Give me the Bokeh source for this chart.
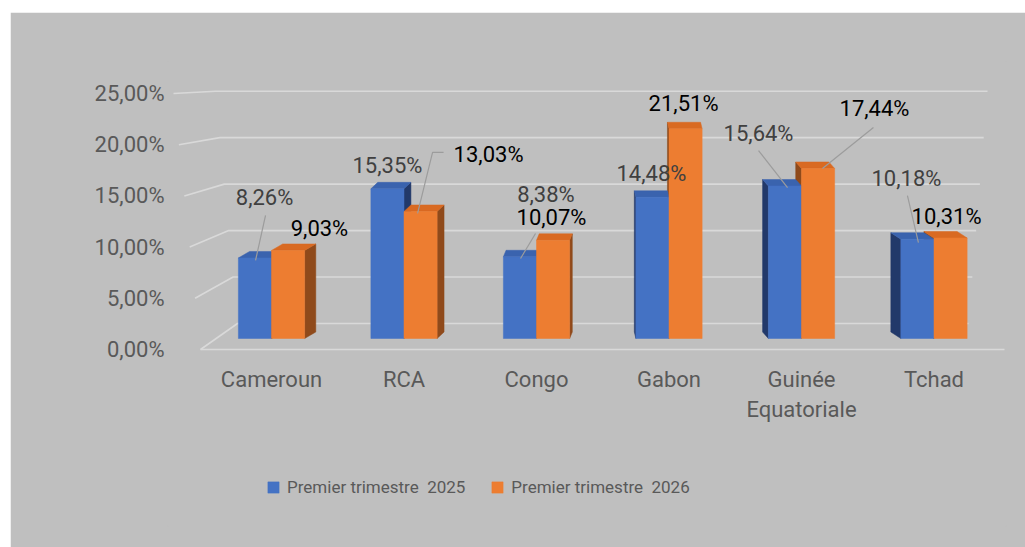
import numpy as np
from bokeh.plotting import figure
from bokeh.models import Range1d, FixedTicker, Legend, LegendItem, ColumnDataSource
from bokeh.core.properties import value
from bokeh.embed import file_html
from bokeh.resources import INLINE

# ---------------- data ----------------
categories = ["Cameroun", "RCA", "Congo", "Gabon", "Guinée\nEquatoriale", "Tchad"]
series_names = ["Premier trimestre  2025", "Premier trimestre  2026"]
values_2025 = [8.26, 15.35, 8.38, 14.48, 15.64, 10.18]
values_2026 = [9.03, 13.03, 10.07, 21.51, 17.44, 10.31]
y_ticks = [0, 5, 10, 15, 20, 25]
y_tick_labels = ["0,00%", "5,00%", "10,00%", "15,00%", "20,00%", "25,00%"]

# ---------------- style / layout ----------------
W, H = 1015, 535
BG = "#BFBFBF"
GRID = "#D9D9D9"
FONT = "Roboto"
FRONT = ["#4472C4", "#ED7D31"]
TOP = ["#3A63AE", "#D96A22"]
SIDE = ["#22396A", "#8F4A1B"]
LABEL_COLORS = ["#404040", "#000000"]

FRAME_W, FRAME_H = 837, 463
PX_X = 132.5        # px per category
PX_MAIN = 10.24     # px per % on the value axis
PX_BAR = 9.75       # px per % for bar fronts
PX_WALL = 9.292     # px per % on back wall
AXIS_ZERO = 176     # px above frame bottom
BAR_ZERO = 187
WALL_ZERO = 202
XAXIS_AT = 163      # px above frame bottom where category labels hang
X_ZERO = 103        # px from frame left to first category center
PAGE_X0 = 271       # page x of first category center (for gridline geometry)
BAR_W = 0.25

def px2x(px):
    return (px - PAGE_X0) / PX_X

x_range = Range1d(-X_ZERO / PX_X, (FRAME_W - X_ZERO) / PX_X)
y_range = Range1d(-AXIS_ZERO / PX_MAIN, (FRAME_H - AXIS_ZERO) / PX_MAIN)

p = figure(width=W, height=H, x_range=x_range, y_range=y_range,
           output_backend="svg", toolbar_location=None,
           min_border_left=158, min_border_right=W - 158 - FRAME_W,
           min_border_top=50, min_border_bottom=H - 50 - FRAME_H,
           background_fill_color=BG, border_fill_color=BG,
           outline_line_color=BG, outline_line_width=3,
           margin=(12, 0, 0, 10))
p.extra_y_ranges = {"bars": Range1d(-BAR_ZERO / PX_BAR, (FRAME_H - BAR_ZERO) / PX_BAR)}
p.grid.visible = False

# ---------------- 3D-ish gridlines ----------------
def wall_in_main(v):
    return (WALL_ZERO + PX_WALL * v - AXIS_ZERO) / PX_MAIN

gxs, gys = [], []
for v in y_ticks:
    gxs.append([px2x(200 - 1.08 * v), px2x(237 - 0.88 * v), px2x(968 + 0.76 * v)])
    gys.append([v, wall_in_main(v), wall_in_main(v)])
gxs.append([px2x(200), px2x(1004)])
gys.append([0, 0])
p.multi_line(xs=gxs, ys=gys, line_color=GRID, line_width=1.6)

# ---------------- bars ----------------
K = 0.032
X_VP = px2x(620)
DY = 6.5 / PX_BAR
all_vals = [values_2025, values_2026]

side_x, side_y, side_c = [], [], []
top_x, top_y, top_c = [], [], []
for s, vals in enumerate(all_vals):
    for i, v in enumerate(vals):
        x0 = i - BAR_W + BAR_W * s
        x1 = x0 + BAR_W
        dx = K * (X_VP - i)
        xe = x1 if dx > 0 else x0
        side_x.append([xe, xe, xe + dx, xe + dx])
        side_y.append([0, v, v + DY, DY])
        side_c.append(SIDE[s])
        top_x.append([x0, x1, x1 + dx, x0 + dx])
        top_y.append([v, v, v + DY, v + DY])
        top_c.append(TOP[s])

p.patches(xs=side_x, ys=side_y, fill_color=side_c, line_color=side_c, line_width=0.5, y_range_name="bars")
p.patches(xs=top_x, ys=top_y, fill_color=top_c, line_color=top_c, line_width=0.5, y_range_name="bars")

idx = list(range(len(categories)))
renderers = []
for s, vals in enumerate(all_vals):
    src = ColumnDataSource(dict(x=[i - BAR_W / 2 + BAR_W * s for i in idx], top=vals))
    r = p.vbar(x="x", top="top", bottom=0, width=BAR_W, source=src, y_range_name="bars",
               fill_color=FRONT[s], line_color=FRONT[s], line_width=0.5)
    renderers.append(r)

# ---------------- data labels ----------------
label_offsets = [
    [(9.6, -60.5), (0, -23.3), (26, -61.8), (-1, -23.8), (-26.4, -53), (-11, -60.7)],
    [(31.4, -22), (68, -57), (-1.6, -22.8), (-2, -25.3), (56.4, -60), (-4, -21.5)],
]
leaders = {
    (0, 0): [(10.6, -42.5), (0.6, 2.5)],
    (1, 1): [(23, -59), (12, -59), (-3, 2)],
    (0, 2): [(15.6, -23.3), (0.6, 1.7)],
    (0, 4): [(-26.4, -35.5), (2.6, 1.5)],
    (1, 4): [(55.4, -41), (4.4, 0)],
    (0, 5): [(-10, -43.7), (1, 3.3)],
}
lx, ly = [], []
for (s, i), pts in leaders.items():
    cx = i - BAR_W / 2 + BAR_W * s
    v = all_vals[s][i]
    lx.append([cx + a / PX_X for a, b in pts])
    ly.append([v - b / PX_BAR for a, b in pts])
p.multi_line(xs=lx, ys=ly, line_color="#9C9C9C", line_width=1.2, y_range_name="bars")

for s, vals in enumerate(all_vals):
    src = ColumnDataSource(dict(
        x=[i - BAR_W / 2 + BAR_W * s for i in idx],
        y=vals,
        t=[f"{v:.2f}".replace(".", ",") + "%" for v in vals],
        xo=[o[0] for o in label_offsets[s]],
        yo=[o[1] for o in label_offsets[s]],
    ))
    p.text(x="x", y="y", text="t", x_offset="xo", y_offset="yo", source=src, y_range_name="bars",
           text_font=value(FONT), text_font_size="22px", text_color=LABEL_COLORS[s],
           text_align="center", text_baseline="middle")

# ---------------- axes ----------------
p.xaxis.ticker = FixedTicker(ticks=idx)
p.xaxis.major_label_overrides = {i: c for i, c in enumerate(categories)}
p.xaxis.fixed_location = (XAXIS_AT - AXIS_ZERO) / PX_MAIN
p.yaxis.ticker = FixedTicker(ticks=y_ticks)
p.yaxis.major_label_overrides = {t: l for t, l in zip(y_ticks, y_tick_labels)}
for ax in (p.xaxis, p.yaxis):
    ax.axis_line_color = None
    ax.major_tick_line_color = None
    ax.minor_tick_line_color = None
    ax.major_tick_out = 0
    ax.major_tick_in = 0
    ax.minor_tick_out = 0
    ax.minor_tick_in = 0
    ax.major_label_text_font = FONT
    ax.major_label_text_color = "#595959"
p.xaxis.major_label_text_font_size = "22px"
p.yaxis.major_label_text_font_size = "22px"
p.xaxis.major_label_standoff = 4
p.yaxis.major_label_standoff = 4

# ---------------- legend ----------------
legend = Legend(items=[LegendItem(label=series_names[s], renderers=[renderers[s]]) for s in range(2)],
                location=(98, 28), orientation="horizontal",
                glyph_width=14, glyph_height=14, label_standoff=7, spacing=25,
                padding=0, margin=0, background_fill_alpha=0, border_line_color=None,
                label_text_font=FONT, label_text_font_size="17px", label_text_color="#595959")
p.add_layout(legend)

open("out.html", "w").write(file_html(p, INLINE))
